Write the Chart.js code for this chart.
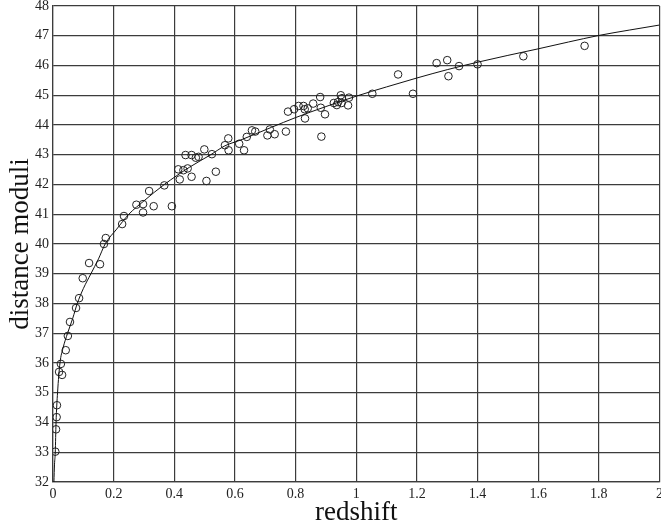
<!DOCTYPE html>
<html>
<head>
<meta charset="utf-8">
<script src="https://cdn.jsdelivr.net/npm/chart.js@4.4.1/dist/chart.umd.min.js"></script>
<style>
html,body{margin:0;padding:0;background:#fff;overflow:hidden;width:661px;height:523px;}
#wrap{position:absolute;left:0;top:-5px;width:668px;height:531px;}
</style>
</head>
<body>
<div id="wrap"><canvas id="c"></canvas></div>
<script>
// observed supernova data (redshift, distance modulus)
const obsRedshift = [
  0.0076, 0.010, 0.012, 0.013, 0.020, 0.030, 0.026, 0.042, 0.049, 0.056,
  0.076, 0.086, 0.098, 0.119, 0.155, 0.168, 0.174, 0.228, 0.234, 0.275,
  0.297, 0.297, 0.317, 0.332, 0.367, 0.392, 0.413, 0.418, 0.430, 0.437,
  0.444, 0.457, 0.457, 0.471, 0.480, 0.499, 0.506, 0.524, 0.537, 0.567,
  0.578, 0.579, 0.614, 0.630, 0.639, 0.656, 0.667, 0.707, 0.715, 0.731,
  0.768, 0.775, 0.795, 0.810, 0.826, 0.830, 0.831, 0.840, 0.858, 0.881,
  0.883, 0.885, 0.897, 0.926, 0.936, 0.940, 0.949, 0.952, 0.953, 0.973,
  0.976, 1.053, 1.138, 1.187, 1.265, 1.300, 1.304, 1.339, 1.400, 1.551,
  1.753
];
const obsModulus = [
  33.02, 33.77, 34.18, 34.58, 35.70, 35.60, 35.97, 36.43, 36.91, 37.38,
  37.85, 38.18, 38.85, 39.36, 39.32, 40.00, 40.20, 40.67, 40.94, 41.32,
  41.34, 41.06, 41.78, 41.27, 41.97, 41.27, 42.51, 42.17, 42.48, 42.99,
  42.54, 42.99, 42.26, 42.90, 42.93, 43.18, 42.12, 43.02, 42.43, 43.32,
  43.55, 43.15, 43.37, 43.15, 43.60, 43.82, 43.78, 43.65, 43.85, 43.69,
  43.78, 44.45, 44.53, 44.64, 44.64, 44.53, 44.22, 44.56, 44.72, 44.94,
  44.58, 43.61, 44.36, 44.74, 44.67, 44.77, 45.00, 44.74, 44.90, 44.66,
  44.92, 45.05, 45.70, 45.05, 46.08, 46.18, 45.64, 45.98, 46.04, 46.31,
  46.66
];
// model curve
const curveRedshift = [
  0.003, 0.005, 0.0075, 0.010, 0.015, 0.023, 0.033, 0.048, 0.065, 0.080,
  0.100, 0.125, 0.150, 0.172, 0.210, 0.250, 0.300, 0.367, 0.450, 0.520,
  0.567, 0.620, 0.720, 0.800, 0.900, 1.000, 1.100, 1.200, 1.300, 1.400,
  1.500, 1.600, 1.700, 1.800, 1.900, 2.000
];
const curveModulus = [
  32.00, 32.60, 33.00, 34.00, 35.00, 36.00, 36.50, 37.00, 37.50, 38.00,
  38.50, 39.00, 39.50, 40.00, 40.50, 41.00, 41.45, 42.00, 42.58, 43.00,
  43.30, 43.50, 43.92, 44.25, 44.62, 44.97, 45.28, 45.58, 45.86, 46.11,
  46.34, 46.56, 46.79, 47.01, 47.19, 47.36
];
const xTitle = "redshift";
const yTitle = "distance moduli";

const obsPts = obsRedshift.map((x, i) => ({x: x, y: obsModulus[i]}));
const curvePts = curveRedshift.map((x, i) => ({x: x, y: curveModulus[i]}));

const gridColor = '#3c3c3c';
new Chart(document.getElementById('c'), {
  type: 'scatter',
  data: {
    datasets: [
      {
        label: 'model',
        data: curvePts,
        showLine: true,
        borderColor: '#111',
        borderWidth: 1,
        pointRadius: 0,
        cubicInterpolationMode: 'monotone',
        fill: false
      },
      {
        label: 'data',
        data: obsPts,
        showLine: false,
        pointStyle: 'circle',
        pointRadius: 3.8,
        pointBorderWidth: 1,
        pointBorderColor: '#222',
        pointBackgroundColor: 'rgba(0,0,0,0)'
      }
    ]
  },
  options: {
    responsive: true,
    maintainAspectRatio: false,
    animation: false,
    layout: {padding: 0},
    plugins: {legend: {display: false}, tooltip: {enabled: false}},
    scales: {
      x: {
        type: 'linear', min: 0, max: 2,
        grid: {color: gridColor, lineWidth: 1.2, drawTicks: false},
        border: {color: gridColor, width: 1.2},
        ticks: {
          stepSize: 0.2, padding: 5, color: '#222',
          font: {family: 'Liberation Serif', size: 14, lineHeight: 1},
          maxRotation: 0, autoSkip: false,
          callback: v => { const s = (Math.round(v * 10) / 10).toFixed(1); return s.endsWith('.0') ? s.slice(0, -2) : s; }
        },
        title: {display: true, text: xTitle, color: '#111', padding: {top: -7, bottom: 0},
          font: {family: 'Liberation Serif', size: 27, lineHeight: 1}}
      },
      y: {
        type: 'linear', min: 32, max: 48,
        grid: {color: gridColor, lineWidth: 1.2, drawTicks: false},
        border: {color: gridColor, width: 1.2},
        ticks: {
          stepSize: 1, padding: 4, color: '#222',
          font: {family: 'Liberation Serif', size: 14, lineHeight: 1}
        },
        title: {display: true, text: yTitle, color: '#111', padding: {top: 7, bottom: -3},
          font: {family: 'Liberation Serif', size: 27, lineHeight: 1}}
      }
    }
  }
});
</script>
</body>
</html>
